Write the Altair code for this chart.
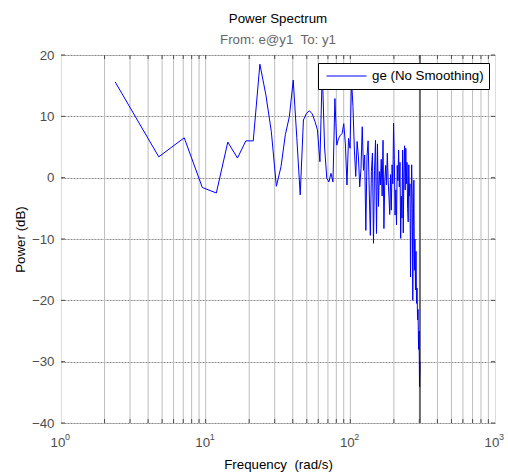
import altair as alt
import pandas as pd

# ---- data ----
freq = [2.37, 4.74, 7.11, 9.48, 11.85, 14.22, 16.59, 18.96, 21.33, 23.70,
        26.07, 28.44, 30.81, 33.18, 35.55, 37.92, 40.29, 42.66, 45.03, 47.40,
        49.77, 52.14, 54.51, 56.88, 59.25, 61.62, 63.99, 66.36, 68.73, 71.10,
        73.47, 75.84, 78.21, 80.58, 82.95, 85.32, 87.69, 90.06, 92.43, 94.80,
        97.17, 99.54, 101.91, 104.28, 106.65, 109.02, 111.39, 113.76, 116.13, 118.50,
        120.87, 123.24, 125.61, 127.98, 130.35, 132.72, 135.09, 137.46, 139.83, 142.20,
        144.57, 146.94, 149.31, 151.68, 154.05, 156.42, 158.79, 161.16, 163.53, 165.90,
        168.27, 170.64, 173.01, 175.38, 177.75, 180.12, 182.49, 184.86, 187.23, 189.60,
        191.97, 194.34, 196.71, 199.08, 201.45, 203.82, 206.19, 208.56, 210.93, 213.30,
        215.67, 218.04, 220.41, 222.78, 225.15, 227.52, 229.89, 232.26, 234.63, 237.00,
        239.37, 241.74, 244.11, 246.48, 248.85, 251.22, 253.59, 255.96, 258.33, 260.70,
        263.07, 265.44, 267.81, 270.18, 272.55, 274.92, 277.29, 279.66, 282.03, 284.40,
        286.77, 289.14, 291.51, 293.88, 296.25, 298.62, 300.99, 303.36]

power = [15.6, 3.4, 6.5, -1.6, -2.5, 5.8, 3.2, 6.0, 6.0, 18.5,
         13.5, 7.5, -1.4, 1.8, 7.0, 10.0, 15.9, 6.5, -2.8, 9.4,
         10.5, 10.9, 10.4, 9.2, 7.8, 2.6, 17.5, 5.0, -0.1, -0.7,
         0.7, -0.7, 12.9, 5.3, 6.4, 6.9, 7.2, 8.8, 5.5, -1.2,
         6.4, 4.8, 16.0, 11.6, 4.5, 0.2, 5.9, 3.4, -1.5, 1.5,
         8.3, 1.2, 3.7, -8.6, 3.4, 6.0, -2.0, -9.4, 1.0, 4.0,
         -10.7, 1.2, 6.1, -9.1, 5.5, -4.7, 1.0, -1.2, 3.0, -3.0,
         6.1, -8.3, -0.7, 2.0, -1.2, 4.0, -0.4, -3.0, -6.0, 0.5,
         -5.3, 2.1, -1.0, 8.9, 3.0, -6.1, -2.0, -7.7, 2.0, -0.5,
         4.5, -1.5, 2.5, -9.9, -3.0, -6.6, 4.5, -9.0, 1.0, 5.2,
         -2.0, 4.8, -1.0, 2.5, -5.0, -7.2, 2.1, -3.0, -1.0, -16.2,
         -5.0, 2.1, -3.0, -20.0, -8.0, -0.4, -15.1, -10.0, -18.3, -12.0,
         -20.5, -18.0, -23.2, -21.5, -28.0, -25.0, -34.1, -30.0]

series_name = "ge (No Smoothing)"
nyquist = [303.36]
grid_freqs = [2, 3, 4, 5, 6, 7, 8, 9, 10, 20, 30, 40, 50, 60, 70, 80, 90,
              100, 200, 300, 400, 500, 600, 700, 800, 900]
decades = [1, 10, 100, 1000]
decade_base = ["10", "10", "10", "10"]
decade_exp = ["0", "1", "2", "3"]
y_ticks = [-40, -30, -20, -10, 0, 10, 20]

W, H = 434, 368
FONT = "Liberation Sans"
FS = 13.3
LABEL_GRAY = "#4d4d4d"

xs = alt.Scale(type="log", domain=[1, 1000], nice=False)
ys = alt.Scale(domain=[-40, 20], nice=False)

xaxis = alt.Axis(title="Frequency\u00a0 (rad/s)", labels=False, ticks=False,
                 domain=False, grid=False, titleFontSize=FS,
                 titleFontWeight="normal", titleColor="black",
                 titlePadding=34, titleFont=FONT)
yaxis = alt.Axis(title="Power (dB)", values=y_ticks, ticks=False, domain=False,
                 grid=True, gridColor="#8c8c8c", gridDash=[2, 1],
                 labelFontSize=FS, labelColor=LABEL_GRAY, labelPadding=7,
                 labelFont=FONT, titleFontSize=FS, titleFontWeight="normal",
                 titleColor="black", titlePadding=4, titleFont=FONT)

df = pd.DataFrame({"freq": freq, "power": power, "series": [series_name] * len(freq)})
grid_df = pd.DataFrame({"freq": grid_freqs})
ytick_df = pd.DataFrame({"power": y_ticks})
dec_df = pd.DataFrame({"freq": decades, "base": decade_base, "e": decade_exp})
nyq_df = pd.DataFrame({"freq": nyquist})

X = alt.X("freq:Q", scale=xs, axis=xaxis)
Y = alt.Y("power:Q", scale=ys, axis=yaxis)

vgrid = alt.Chart(grid_df).mark_rule(color="#bdbdbd", strokeWidth=1).encode(x=X)

line = alt.Chart(df).mark_line(strokeWidth=1, clip=True).encode(
    x=X, y=Y,
    color=alt.Color("series:N",
                    scale=alt.Scale(domain=[series_name], range=["#0000ff"]),
                    legend=alt.Legend(orient="none", legendX=257, legendY=8, title=None,
                                      symbolType="stroke", symbolSize=1600,
                                      symbolStrokeWidth=1, symbolStrokeColor="#0000ff",
                                      strokeColor="black", fillColor="white",
                                      padding=5, symbolOffset=3, clipHeight=16,
                                      labelFontSize=FS, labelColor="black",
                                      labelOffset=5, labelFont=FONT, cornerRadius=0)),
)

nyq = alt.Chart(nyq_df).mark_rule(color="black", strokeWidth=1).encode(x=X)

top_ticks = alt.Chart(grid_df).mark_rule(color=LABEL_GRAY, strokeWidth=1).encode(
    x=X, y=alt.value(0), y2=alt.value(4)
)
bot_ticks = alt.Chart(grid_df).mark_rule(color=LABEL_GRAY, strokeWidth=1).encode(
    x=X, y=alt.value(H), y2=alt.value(H - 4)
)
left_ticks = alt.Chart(ytick_df).mark_rule(color=LABEL_GRAY, strokeWidth=1).encode(
    y=Y, x=alt.value(0), x2=alt.value(4)
)
right_ticks = alt.Chart(ytick_df).mark_rule(color=LABEL_GRAY, strokeWidth=1).encode(
    y=Y, x=alt.value(W), x2=alt.value(W - 4)
)

base_lbl = alt.Chart(dec_df).mark_text(
    align="center", baseline="alphabetic", dx=-3, dy=24, fontSize=FS,
    color=LABEL_GRAY, font=FONT
).encode(x=X, y=alt.value(H), text="base:N")

exp_lbl = alt.Chart(dec_df).mark_text(
    align="left", baseline="alphabetic", dx=4, dy=17, fontSize=9,
    color=LABEL_GRAY, font=FONT
).encode(x=X, y=alt.value(H), text="e:N")

chart = alt.layer(
    vgrid, line, nyq, top_ticks, bot_ticks, left_ticks, right_ticks, base_lbl, exp_lbl
).properties(
    width=W, height=H,
    autosize=alt.AutoSizeParams(type="none"),
    padding={"left": 61, "top": 55, "right": 13, "bottom": 50},
    title=alt.TitleParams(text="Power Spectrum", subtitle="From: e@y1\u00a0 To: y1",
                          fontSize=FS, fontWeight="normal", color="black", font=FONT,
                          subtitleFontSize=FS, subtitleColor="#666666",
                          subtitleFont=FONT, anchor="middle", offset=2,
                          subtitlePadding=7),
).configure_view(
    stroke="#4d4d4d", strokeWidth=1
).configure(
    background="white", font=FONT
)

chart.save("out.html", embed_options={"renderer": "svg", "actions": False})
